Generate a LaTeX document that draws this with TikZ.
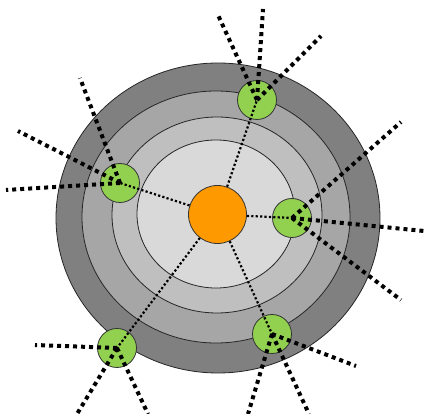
\documentclass[tikz,border=0pt]{standalone}
\usetikzlibrary{positioning}
\definecolor{ringout}{HTML}{808080}
\definecolor{ringtwo}{HTML}{A6A6A6}
\definecolor{ringthree}{HTML}{BFBFBF}
\definecolor{ringin}{HTML}{D9D9D9}
\definecolor{hubor}{HTML}{FF9900}
\definecolor{peergr}{HTML}{92D050}
\tikzset{
  ring/.style={draw=black!85, line width=0.8pt},
  hubnode/.style={circle, draw=black!80, fill=hubor, minimum size=58pt, inner sep=0pt, line width=0.8pt},
  peer/.style={circle, draw=black!80, fill=peergr, minimum size=39pt, inner sep=0pt, line width=0.8pt},
  fine/.style={line width=2.2pt, dash pattern=on 2.2pt off 2.2pt},
  link/.style={line width=4pt, dash pattern=on 4pt off 4pt},
}
\begin{document}
\begin{tikzpicture}[x=1pt, y=-1pt]
  \useasboundingbox (0,0) rectangle (424,414);
  % layered rings
  \draw[ring, fill=ringout] (218,218) ellipse [x radius=162pt, y radius=155pt];
  \draw[ring, fill=ringtwo] (216,217) ellipse [x radius=134pt, y radius=126pt];
  \draw[ring, fill=ringthree] (217,215) ellipse [x radius=105pt, y radius=98pt];
  \draw[ring, fill=ringin] (216,214) ellipse [x radius=79pt, y radius=74pt];
  % hub and peers
  \node[hubnode] (hub) at (217.5,214.5) {};
  \node[peer] (top) at (257,100) {};
  \node[peer] (left) at (120,183) {};
  \node[peer] (right) at (292,218) {};
  \node[peer] (botl) at (117,348) {};
  \node[peer] (botr) at (272,334) {};
  \foreach \p in {top,left,right,botl,botr} \draw[fine] (hub) -- (\p.center);
  % outgoing links
  \coordinate (t1) at (218,15);
  \coordinate (t2) at (263,9);
  \coordinate (t3) at (321,36);
  \coordinate (l1) at (80,78);
  \coordinate (l2) at (18,131);
  \coordinate (l3) at (6,190);
  \coordinate (r1) at (401,122);
  \coordinate (r2) at (424,231);
  \coordinate (r3) at (401,300);
  \coordinate (bl1) at (35,345);
  \coordinate (bl2) at (77,414);
  \coordinate (bl3) at (148,414);
  \coordinate (br1) at (356,366);
  \coordinate (br2) at (248,414);
  \coordinate (br3) at (309,414);
  \foreach \a/\b in {top/t1,top/t2,top/t3,left/l1,left/l2,left/l3,right/r1,right/r2,right/r3,
    botl/bl1,botl/bl2,botl/bl3,botr/br1,botr/br2,botr/br3}
    \draw[link] (\a.center) -- (\b);
\end{tikzpicture}
\end{document}
